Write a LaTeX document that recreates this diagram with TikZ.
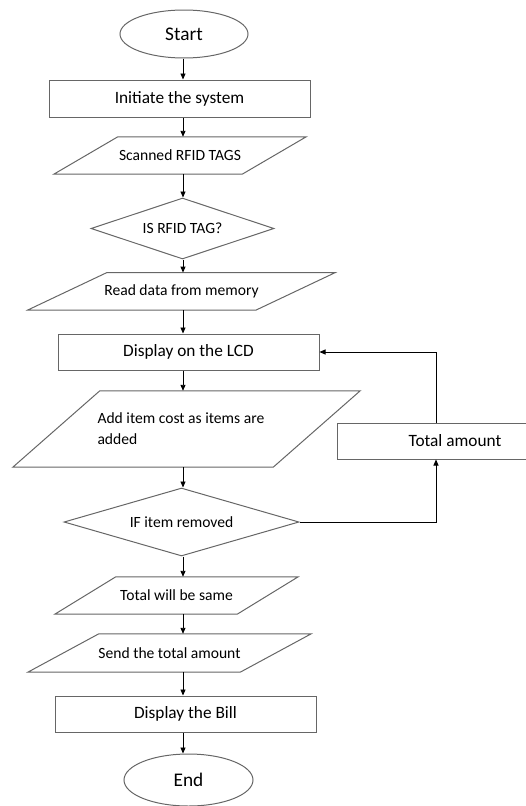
\documentclass[tikz,border=0pt]{standalone}
\usepackage{fontspec}
\setmainfont{Carlito}
\usetikzlibrary{positioning,arrows.meta,shapes.geometric}
\tikzset{
  term/.style={ellipse,draw=black!60,line width=1pt,minimum width=128pt,minimum height=48pt,
    inner sep=0pt,font=\fontsize{19.3}{22}\selectfont},
  proc/.style={rectangle,draw=black!60,line width=1pt,minimum width=261pt,minimum height=37pt,
    inner sep=2pt,font=\fontsize{17.3}{20}\selectfont},
  io/.style={rectangle,minimum height=37pt,inner sep=2pt,font=\fontsize{15.6}{21}\selectfont},
  ioline/.style={draw=black!60,line width=1pt,line join=miter},
  dec/.style={diamond,draw=black!60,line width=1pt,aspect=3.5,inner sep=0pt,
    font=\fontsize{15.6}{18}\selectfont},
  flw/.style={-{Triangle[length=6pt,width=5pt]},line width=0.9pt,black},
}
\begin{document}
\begin{tikzpicture}[x=1pt,y=-1pt]
  \useasboundingbox (0,0) rectangle (525,806);
  % main column
  \node[term] (start) at (184,34) {Start};
  \node[proc] (init) at (179.5,98.5) {Initiate the system};
  \node[io,minimum width=252pt] (scan) at (180,155.5) {Scanned RFID TAGS};
  \node[dec,minimum width=183pt,minimum height=61pt] (isrfid) at (182.5,228.5) {IS RFID TAG?};
  \node[io,minimum width=307pt] (read) at (181.5,291.3) {Read data from memory};
  \node[proc,minimum height=36pt] (lcd) at (188.5,352) {Display on the LCD};
  \node[io,minimum width=347pt,minimum height=76pt,text width=178pt,align=flush left]
    (additem) at (186.5,429) {Add item cost as items are\\added};
  \node[dec,minimum width=235pt,minimum height=68pt] (ifrem) at (181.5,522) {IF item removed};
  \node[io,minimum width=243pt] (same) at (176.5,595.5) {Total will be same};
  \node[io,minimum width=283pt,minimum height=38pt] (send) at (169.5,653) {Send the total amount};
  \node[proc,minimum height=36pt] (bill) at (185.5,714) {Display the Bill};
  \node[term,minimum width=129pt,minimum height=52pt] (end) at (188.5,780) {End};
  % side branch
  \node[proc,minimum width=236pt,minimum height=36pt] (total) at (455,441) {Total amount};
  % parallelogram outlines (name/slant)
  \foreach \n/\s in {scan/64,read/79,additem/87,same/61,send/71}
    \draw[ioline] ([xshift=\s pt]\n.north west) -- (\n.north east)
      -- ([xshift=-\s pt]\n.south east) -- (\n.south west) -- cycle;
  \coordinate (spine) at (183,0);
  \coordinate (loop) at (436,0);
  % arrows down the column
  \draw[flw] (spine |- start.south) -- (spine |- init.north);
  \draw[flw] (spine |- init.south) -- (spine |- scan.north);
  \draw[flw] (spine |- scan.south) -- (spine |- isrfid.north);
  \draw[flw] (spine |- isrfid.south) -- (spine |- read.north);
  \draw[flw] (spine |- read.south) -- (spine |- lcd.north);
  \draw[flw] (spine |- lcd.south) -- (spine |- additem.north);
  \draw[flw] (spine |- additem.south) -- (spine |- ifrem.north);
  \draw[flw] (spine |- ifrem.south) -- (spine |- same.north);
  \draw[flw] (spine |- same.south) -- (spine |- send.north);
  \draw[flw] (spine |- send.south) -- (spine |- bill.north);
  \draw[flw] (spine |- bill.south) -- (spine |- end.north);
  % loop back
  \draw[flw] (ifrem.east) -| (loop |- total.south);
  \draw[flw] (loop |- total.north) |- (lcd.east);
\end{tikzpicture}
\end{document}
